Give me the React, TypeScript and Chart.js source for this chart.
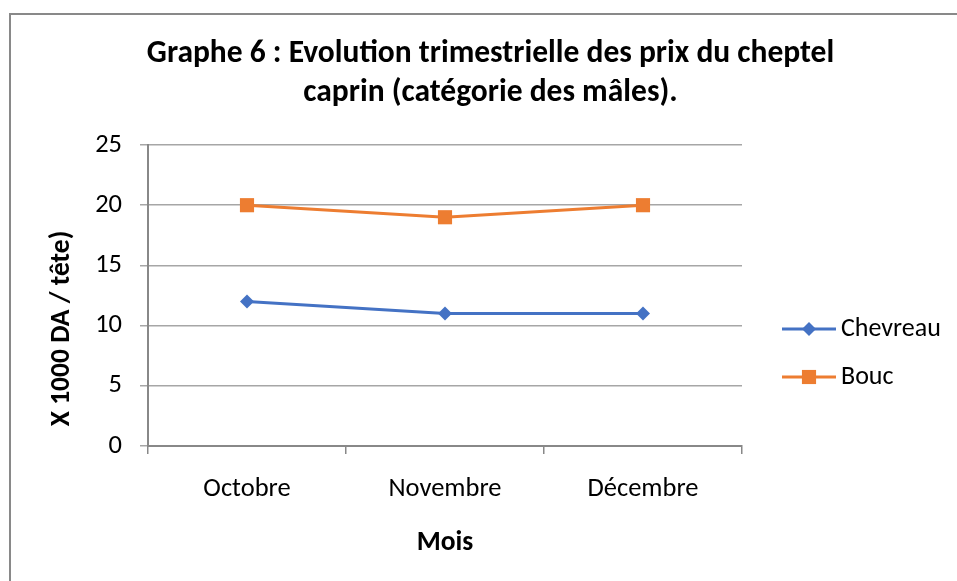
import React, { useEffect, useRef } from "react";
import { Chart, registerables } from "chart.js";

Chart.register(...registerables);

const categories = ["Octobre", "Novembre", "Décembre"];
const chevreau = [12, 11, 11];
const bouc = [20, 19, 20];
const seriesNames = ["Chevreau", "Bouc"];
const titleLines = [
  "Graphe 6 : Evolution trimestrielle des prix du cheptel",
  "caprin (catégorie des mâles).",
];
const yTitle = "X 1000 DA / tête)";
const xTitle = "Mois";

const FONT = "Carlito, Lato, 'Open Sans', sans-serif";
const BLUE = "#4472C4";
const ORANGE = "#ED7D31";

const sidePlugin = {
  id: "sideLegend",
  afterDraw(chart: any) {
    const ctx = chart.ctx;
    const area = chart.chartArea;
    // y axis title
    ctx.save();
    ctx.translate(62, (area.top + area.bottom) / 2 + 33);
    ctx.rotate(-Math.PI / 2);
    ctx.fillStyle = "#000";
    ctx.font = `bold 27.5px ${FONT}`;
    ctx.textAlign = "center";
    ctx.textBaseline = "middle";
    ctx.fillText(yTitle, 0, 0);
    ctx.restore();
    // legend
    const x0 = area.right + 40;
    const y0 = area.top + 184;
    const gap = 48;
    chart.data.datasets.forEach((ds: any, i: number) => {
      const y = y0 + i * gap;
      ctx.save();
      ctx.strokeStyle = ds.borderColor;
      ctx.lineWidth = 3;
      ctx.beginPath();
      ctx.moveTo(x0, y);
      ctx.lineTo(x0 + 54, y);
      ctx.stroke();
      const cx = x0 + 27;
      ctx.fillStyle = ds.pointBackgroundColor;
      ctx.beginPath();
      if (ds.pointStyle === "rectRot") {
        const r = ds.pointRadius;
        ctx.moveTo(cx, y - r);
        ctx.lineTo(cx + r, y);
        ctx.lineTo(cx, y + r);
        ctx.lineTo(cx - r, y);
        ctx.closePath();
      } else {
        const s = ds.pointRadius * Math.SQRT1_2;
        ctx.rect(cx - s, y - s, 2 * s, 2 * s);
      }
      ctx.fill();
      ctx.fillStyle = "#000";
      ctx.font = `26px ${FONT}`;
      ctx.textBaseline = "middle";
      ctx.textAlign = "left";
      ctx.fillText(ds.label, x0 + 59, y);
      ctx.restore();
    });
  },
};

export default function App() {
  const ref = useRef<HTMLCanvasElement>(null);
  useEffect(() => {
    if (!ref.current) return;
    const chart = new Chart(ref.current, {
      type: "line",
      data: {
        labels: categories,
        datasets: [
          {
            label: seriesNames[0],
            data: chevreau,
            borderColor: BLUE,
            backgroundColor: BLUE,
            pointBackgroundColor: BLUE,
            pointBorderColor: BLUE,
            pointStyle: "rectRot",
            pointRadius: 7,
            borderWidth: 3,
            pointBorderWidth: 0,
            yAxisID: "y",
          },
          {
            label: seriesNames[1],
            data: bouc,
            borderColor: ORANGE,
            backgroundColor: ORANGE,
            pointBackgroundColor: ORANGE,
            pointBorderColor: ORANGE,
            pointStyle: "rect",
            pointRadius: 10,
            borderWidth: 3,
            pointBorderWidth: 0,
            yAxisID: "y",
          },
        ],
      },
      options: {
        responsive: false,
        animation: false,
        devicePixelRatio: 1,
        layout: { padding: { left: 24, right: 0, top: 0, bottom: 0 } },
        plugins: {
          legend: { display: false },
          tooltip: { enabled: false },
          title: {
            display: true,
            text: titleLines,
            color: "#000",
            font: { family: FONT, size: 31.5, weight: "bold", lineHeight: "38.5px" },
            padding: { top: 35, bottom: 33 },
          },
        },
        scales: {
          x: {
            type: "category",
            offset: true,
            grid: {
              offset: true,
              drawOnChartArea: false,
              drawTicks: true,
              tickLength: 8,
              color: "#888888",
              lineWidth: 1.5,
            },
            border: { display: true, color: "#888888", width: 2 },
            ticks: { color: "#000", font: { family: FONT, size: 26.5 }, padding: 19, maxRotation: 0 },
            title: {
              display: true,
              text: xTitle,
              color: "#000",
              font: { family: FONT, size: 27.5, weight: "bold" },
              padding: { top: 0, bottom: 21 },
            },
            afterFit(scale: any) {
              scale.height = 135;
            },
          },
          y: {
            min: 0,
            max: 25,
            ticks: { stepSize: 5, color: "#000", font: { family: FONT, size: 26.5 }, padding: 18 },
            grid: { color: "#a6a6a6", lineWidth: 1.5, tickLength: 8 },
            border: { display: true, color: "#888888", width: 2 },
            title: { display: false },
            afterFit(scale: any) {
              scale.width = 124;
            },
          },
          yr: {
            position: "right",
            min: 0,
            max: 1,
            grid: { display: false, drawOnChartArea: false },
            border: { display: false },
            ticks: { display: false },
            afterFit(scale: any) {
              scale.width = 215;
            },
          },
        },
      },
      plugins: [sidePlugin],
    } as any);
    return () => chart.destroy();
  }, []);

  return (
    <div>
      <div
        style={{
          position: "fixed",
          left: 9,
          top: 13,
          width: 1000,
          height: 1000,
          borderLeft: "2px solid #898989",
          borderTop: "2px solid #898989",
          boxSizing: "border-box",
        }}
      />
      <canvas
        ref={ref}
        width={957}
        height={581}
        style={{ position: "fixed", left: 0, top: 0, width: 957, height: 581 }}
      />
    </div>
  );
}
